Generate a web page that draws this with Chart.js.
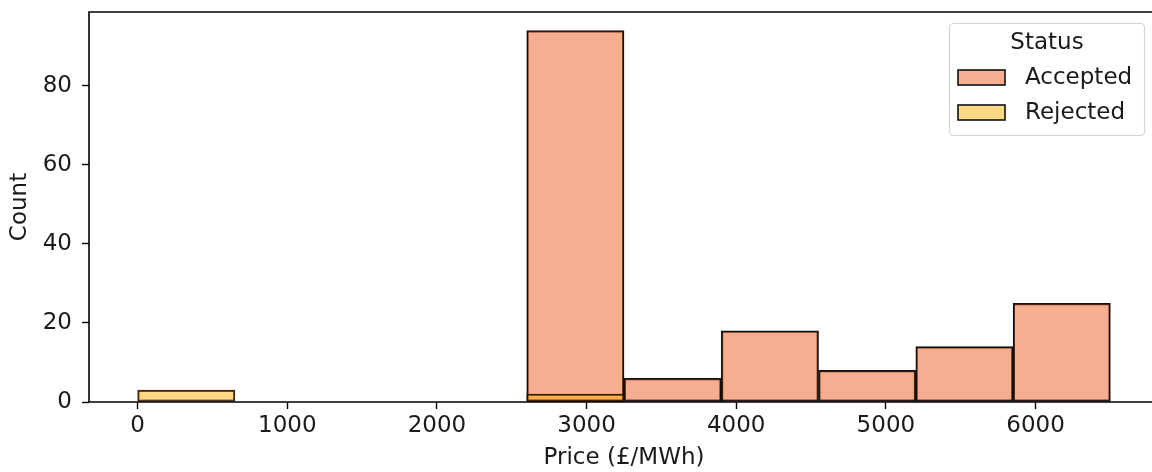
<!DOCTYPE html>
<html>
<head>
<meta charset="utf-8">
<script src="https://cdn.jsdelivr.net/npm/chart.js@4.4.1/dist/chart.umd.min.js"></script>
<style>
  html, body { margin: 0; padding: 0; background: #fff; overflow: hidden; width: 1152px; height: 472px; }
  #wrap { position: absolute; left: 0; top: 0; width: 1166px; height: 472px; }
</style>
</head>
<body>
<div id="wrap"><canvas id="c" width="1166" height="472"></canvas></div>
<script>
// Histogram bins (£/MWh), width 650
const binEdges = [0, 650, 1300, 1950, 2600, 3250, 3900, 4550, 5200, 5850, 6500];
const statuses = ["Accepted", "Rejected"];
const acceptedCounts = [0, 0, 0, 0, 94, 6, 18, 8, 14, 25];
const rejectedCounts = [3, 0, 0, 0, 2, 0, 0, 0, 0, 0];
const xTicks = [0, 1000, 2000, 3000, 4000, 5000, 6000];
const yTicks = [0, 20, 40, 60, 80];
const xLabel = "Price (£/MWh)";
const yLabel = "Count";
const legendTitle = "Status";

const FONT = "'DejaVu Sans', sans-serif";
const FS = 23;
const accFill = "rgba(235,93,31,0.5)";
const rejFill = "rgba(251,179,11,0.5)";

function toPoints(counts) {
  return counts.map((v, i) => ({ x: (binEdges[i] + binEdges[i + 1]) / 2, y: v }));
}

const span = binEdges[binEdges.length - 1] - binEdges[0];
const xMin = binEdges[0] - 0.05 * span;
const xMax = binEdges[binEdges.length - 1] + 0.05 * span;
const yMax = Math.max(...acceptedCounts, ...rejectedCounts) * 1.05;

function zeroPad(s) { s.paddingTop = 0; s.paddingBottom = 0; s.paddingLeft = 0; s.paddingRight = 0; }

const framePlugin = {
  id: 'frame',
  afterDatasetsDraw(chart) {
    const { ctx, chartArea: a } = chart;
    ctx.save();
    ctx.strokeStyle = '#000';
    ctx.lineWidth = 1.6;
    ctx.beginPath();
    ctx.moveTo(a.left, a.bottom); ctx.lineTo(a.left, a.top); ctx.lineTo(a.right, a.top); ctx.lineTo(a.right, a.bottom);
    ctx.moveTo(a.left, a.bottom); ctx.lineTo(a.right, a.bottom);
    ctx.stroke();
    ctx.restore();
  },
  afterDraw(chart) {
    const ctx = chart.ctx;
    ctx.save();
    const bx = 949.5, by = 23.5, bw = 195, bh = 112;
    ctx.fillStyle = 'rgba(255,255,255,0.8)';
    ctx.strokeStyle = '#d4d4d4';
    ctx.lineWidth = 1.2;
    ctx.beginPath();
    ctx.roundRect(bx, by, bw, bh, 4);
    ctx.fill(); ctx.stroke();
    ctx.fillStyle = '#1a1a1a';
    ctx.font = FS + 'px ' + FONT;
    ctx.textAlign = 'center'; ctx.textBaseline = 'middle';
    ctx.fillText(legendTitle, 1047, 43);
    const fills = [accFill, rejFill];
    const rows = [77, 112];
    statuses.forEach((s, i) => {
      ctx.fillStyle = '#fff';
      ctx.fillRect(958, rows[i] - 7, 47, 15);
      ctx.fillStyle = fills[i];
      ctx.fillRect(958, rows[i] - 7, 47, 15);
      ctx.strokeStyle = '#111';
      ctx.lineWidth = 1.6;
      ctx.strokeRect(958, rows[i] - 7, 47, 15);
      ctx.fillStyle = '#1a1a1a';
      ctx.textAlign = 'left';
      ctx.fillText(s, 1025, rows[i] + 1);
    });
    ctx.restore();
  }
};

new Chart(document.getElementById('c'), {
  type: 'bar',
  data: {
    datasets: [
      { label: statuses[0], data: toPoints(acceptedCounts), backgroundColor: accFill, borderColor: '#111', borderWidth: 1.6, borderSkipped: false, order: 1 },
      { label: statuses[1], data: toPoints(rejectedCounts), backgroundColor: rejFill, borderColor: 'rgba(40,10,0,0.9)', borderWidth: 1.6, borderSkipped: false, order: 0 }
    ]
  },
  options: {
    responsive: false,
    animation: false,
    devicePixelRatio: 1,
    layout: { padding: { top: 12, right: 7, left: 0, bottom: 0 } },
    datasets: { bar: { grouped: false, barPercentage: 1, categoryPercentage: 1 } },
    plugins: { legend: { display: false }, tooltip: { enabled: false } },
    scales: {
      x: {
        type: 'linear', min: xMin, max: xMax, offset: false,
        afterBuildTicks(s) { s.ticks = xTicks.map(v => ({ value: v })); },
        afterFit(s) { s.height = 70; zeroPad(s); },
        grid: { display: true, offset: false, drawOnChartArea: false, drawTicks: true, tickLength: 7, tickWidth: 1.4, tickColor: '#000', color: '#000' },
        border: { display: false },
        ticks: { color: '#1a1a1a', font: { family: FONT, size: FS }, padding: 3, maxRotation: 0, autoSkip: false, callback: v => String(v) },
        title: { display: true, text: xLabel, color: '#1a1a1a', font: { family: FONT, size: FS }, padding: { top: 0, bottom: 0 } }
      },
      y: {
        type: 'linear', min: 0, max: yMax,
        afterBuildTicks(s) { s.ticks = yTicks.map(v => ({ value: v })); },
        afterFit(s) { s.width = 89; zeroPad(s); },
        grid: { display: true, drawOnChartArea: false, drawTicks: true, tickLength: 7, tickWidth: 1.4, tickColor: '#000', color: '#000' },
        border: { display: false },
        ticks: { color: '#1a1a1a', font: { family: FONT, size: FS }, padding: 10, callback: v => String(v) },
        title: { display: true, text: yLabel, color: '#1a1a1a', font: { family: FONT, size: FS }, padding: { top: 6, bottom: 0 } }
      }
    }
  },
  plugins: [framePlugin]
});
</script>
</body>
</html>
